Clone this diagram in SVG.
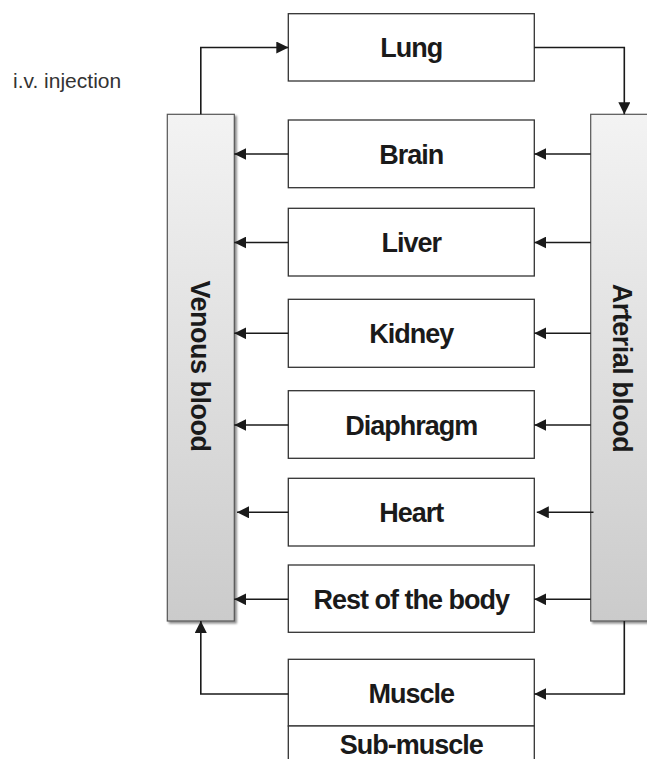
<svg xmlns="http://www.w3.org/2000/svg" width="647" height="759" viewBox="0 0 647 759">
  <defs>
    <linearGradient id="barGrad" x1="0" y1="0" x2="0" y2="1">
      <stop offset="0" stop-color="#f3f3f3"/>
      <stop offset="1" stop-color="#cbcbcb"/>
    </linearGradient>
    <filter id="shadow" x="-20%" y="-5%" width="140%" height="110%">
      <feGaussianBlur in="SourceAlpha" stdDeviation="1.2"/>
      <feOffset dx="1.5" dy="1.5" result="b"/>
      <feComponentTransfer><feFuncA type="linear" slope="0.45"/></feComponentTransfer>
      <feMerge><feMergeNode/><feMergeNode in="SourceGraphic"/></feMerge>
    </filter>
    <marker id="arrow" markerUnits="userSpaceOnUse" markerWidth="12" markerHeight="12" viewBox="0 0 10 10" refX="10" refY="5" orient="auto">
      <path d="M0,0 L10,5 L0,10 Z" fill="#1a1a1a"/>
    </marker>
  </defs>
  <style>
    .box { fill: #ffffff; stroke: #333333; stroke-width: 1.3; }
    .bar { fill: url(#barGrad); stroke: #555555; stroke-width: 1.2; }
    .lbl { font-family: "Liberation Sans", Arial, sans-serif; font-weight: bold; font-size: 27px; letter-spacing: -1px; fill: #1a1a1a; text-anchor: middle; }
    .vlbl { font-family: "Liberation Sans", Arial, sans-serif; font-weight: bold; font-size: 27px; letter-spacing: -0.5px; fill: #1a1a1a; text-anchor: middle; }
    .note { font-family: "Liberation Sans", Arial, sans-serif; font-size: 21px; fill: #333333; }
    .conn { fill: none; stroke: #1a1a1a; stroke-width: 1.6; marker-end: url(#arrow); }
  </style>
  <rect width="647" height="759" fill="#ffffff"/>

  <text class="note" x="13" y="88">i.v. injection</text>

  <g id="venous">
    <rect class="bar" x="167.3" y="114.3" width="67" height="506.7" filter="url(#shadow)"/>
    <text class="vlbl" transform="translate(191,366) rotate(90)" x="0" y="0">Venous blood</text>
  </g>
  <g id="arterial">
    <rect class="bar" x="590.7" y="114.3" width="67" height="506.7" filter="url(#shadow)"/>
    <text class="vlbl" transform="translate(613,368) rotate(90)" x="0" y="0">Arterial blood</text>
  </g>

  <g id="lung">
    <rect class="box" x="288.3" y="13.7" width="246" height="67.3"/>
    <text class="lbl" x="411.3" y="57.3">Lung</text>
  </g>
  <g id="brain">
    <rect class="box" x="288.3" y="120" width="246" height="67.7"/>
    <text class="lbl" x="411.3" y="164">Brain</text>
  </g>
  <g id="liver">
    <rect class="box" x="288.3" y="208.3" width="246" height="67.7"/>
    <text class="lbl" x="411.3" y="252">Liver</text>
  </g>
  <g id="kidney">
    <rect class="box" x="288.3" y="299.3" width="246" height="68"/>
    <text class="lbl" x="411.3" y="343.3">Kidney</text>
  </g>
  <g id="diaphragm">
    <rect class="box" x="288.3" y="390.7" width="246" height="67.6"/>
    <text class="lbl" x="411.3" y="434.5">Diaphragm</text>
  </g>
  <g id="heart">
    <rect class="box" x="288.3" y="478.3" width="246" height="67.7"/>
    <text class="lbl" x="411.3" y="522">Heart</text>
  </g>
  <g id="rest">
    <rect class="box" x="288.3" y="565" width="246" height="67.3"/>
    <text class="lbl" x="411.3" y="608.7">Rest of the body</text>
  </g>
  <g id="muscle">
    <rect class="box" x="288.3" y="659.3" width="246" height="66.7"/>
    <text class="lbl" x="411.3" y="703">Muscle</text>
  </g>
  <g id="submuscle">
    <rect class="box" x="288.3" y="726" width="246" height="50"/>
    <text class="lbl" x="411.3" y="753.5">Sub-muscle</text>
  </g>

  <g id="connectors">
    <path class="conn" d="M200.8,114.3 V47.5 H288.3"/>
    <path class="conn" d="M534.3,47.5 H624.3 V114.3"/>
    <path class="conn" d="M590.7,154 H534.3"/>
    <path class="conn" d="M288.3,154 H234.3"/>
    <path class="conn" d="M590.7,242.5 H534.3"/>
    <path class="conn" d="M288.3,242.5 H234.3"/>
    <path class="conn" d="M590.7,333.3 H534.3"/>
    <path class="conn" d="M288.3,333.3 H234.3"/>
    <path class="conn" d="M590.7,425 H534.3"/>
    <path class="conn" d="M288.3,425 H234.3"/>
    <path class="conn" d="M593.5,512.3 H536.8"/>
    <path class="conn" d="M288.3,512.3 H237"/>
    <path class="conn" d="M590.7,599.3 H534.3"/>
    <path class="conn" d="M288.3,599.3 H234.3"/>
    <path class="conn" d="M288.3,694 H200.8 V621"/>
    <path class="conn" d="M624.3,621 V694 H534.3"/>
  </g>
</svg>
